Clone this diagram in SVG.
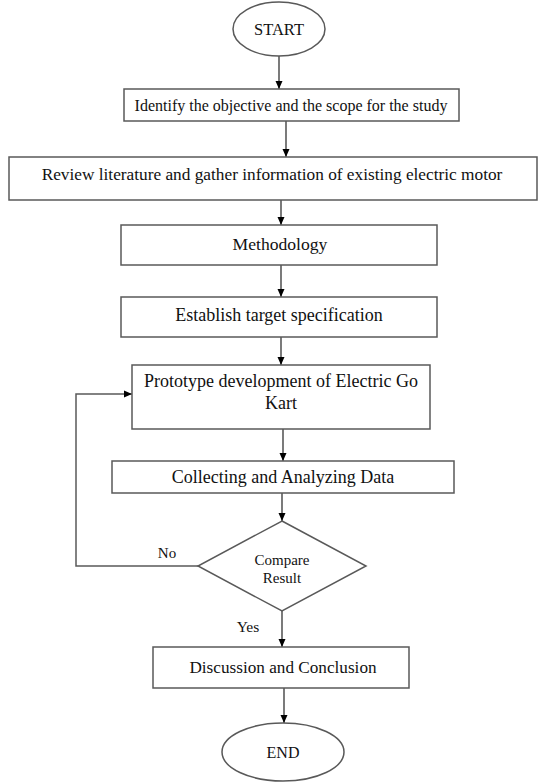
<svg xmlns="http://www.w3.org/2000/svg" width="539" height="782" viewBox="0 0 539 782">
<defs>
<marker id="ah" viewBox="0 0 8 8" refX="8" refY="4" markerWidth="8" markerHeight="8" markerUnits="userSpaceOnUse" orient="auto">
<path d="M0,0.5 L8,4 L0,7.5 Z" fill="#000"/>
</marker>
<style>
.n{fill:#fff;stroke:#595959;stroke-width:1.5}
.t{font-family:"Liberation Serif","Times New Roman",serif;font-size:18px;fill:#111;text-anchor:middle}
.s{font-size:15px}
.c{fill:none;stroke:#222;stroke-width:1.2;marker-end:url(#ah)}
</style>
</defs>
<rect width="539" height="782" fill="#fff"/>
<g id="connectors">
<line class="c" x1="279" y1="56" x2="279" y2="89"/>
<line class="c" x1="286" y1="121" x2="286" y2="157"/>
<line class="c" x1="281" y1="200" x2="281" y2="225"/>
<line class="c" x1="281" y1="265" x2="281" y2="297"/>
<line class="c" x1="281" y1="337" x2="281" y2="365"/>
<line class="c" x1="283" y1="429" x2="283" y2="461"/>
<line class="c" x1="282" y1="493" x2="282" y2="521"/>
<polyline class="c" points="198,566 76,566 76,394 132,394" style="stroke:#595959;stroke-width:1.5"/>
<line class="c" x1="282" y1="611" x2="282" y2="647"/>
<line class="c" x1="284" y1="688" x2="284" y2="723"/>
</g>
<g id="start">
<ellipse class="n" cx="279" cy="29" rx="46" ry="27"/>
<text class="t" x="279" y="35" style="font-size:16.5px">START</text>
</g>
<g id="identify">
<rect class="n" x="124" y="89" width="335" height="32"/>
<text class="t" x="291" y="111" style="font-size:16px">Identify the objective and the scope for the study</text>
</g>
<g id="review">
<rect class="n" x="9" y="157" width="528" height="43"/>
<text class="t" x="272" y="180" style="font-size:17.3px">Review literature and gather information of existing electric motor</text>
</g>
<g id="methodology">
<rect class="n" x="121" y="225" width="316" height="40"/>
<text class="t" x="280" y="250" style="font-size:17.6px">Methodology</text>
</g>
<g id="establish">
<rect class="n" x="121" y="297" width="316" height="40"/>
<text class="t" x="279" y="321">Establish target specification</text>
</g>
<g id="prototype">
<rect class="n" x="132" y="365" width="298" height="64"/>
<text class="t" x="281" y="387">Prototype development of Electric Go</text>
<text class="t" x="281" y="409">Kart</text>
</g>
<g id="collecting">
<rect class="n" x="112" y="461" width="342" height="32"/>
<text class="t" x="283" y="483">Collecting and Analyzing Data</text>
</g>
<g id="compare">
<polygon class="n" points="282,521 366,566 282,611 198,566"/>
<text class="t s" x="282" y="565">Compare</text>
<text class="t s" x="282" y="583">Result</text>
</g>
<g id="labels">
<text class="t s" x="167" y="558">No</text>
<text class="t s" x="248" y="632" style="font-size:15.5px">Yes</text>
</g>
<g id="discussion">
<rect class="n" x="153" y="647" width="256" height="41"/>
<text class="t" x="283" y="673" style="font-size:17.2px">Discussion and Conclusion</text>
</g>
<g id="end">
<ellipse class="n" cx="283" cy="752" rx="61" ry="29"/>
<text class="t" x="283" y="758" style="font-size:16px">END</text>
</g>
</svg>
